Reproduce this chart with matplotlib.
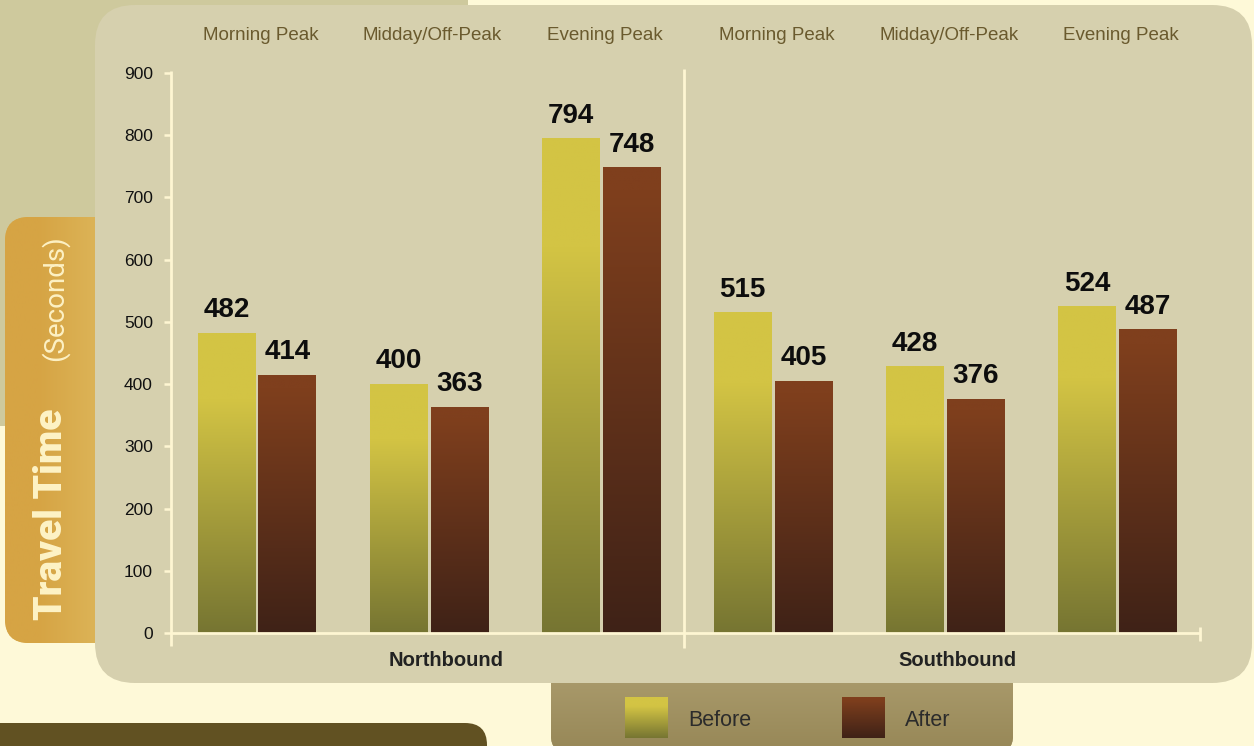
import numpy as np
import matplotlib.pyplot as plt
from matplotlib.patches import FancyBboxPatch
from matplotlib.colors import to_rgb
import matplotlib.transforms as mtrans

plt.rcParams['font.family'] = ['Liberation Sans', 'DejaVu Sans']

# DATA
periods = ["Morning Peak", "Midday/Off-Peak", "Evening Peak",
           "Morning Peak", "Midday/Off-Peak", "Evening Peak"]
directions = ["Northbound", "Southbound"]
before = [482, 400, 794, 515, 428, 524]
after = [414, 363, 748, 405, 376, 487]
yticks = [0, 100, 200, 300, 400, 500, 600, 700, 800, 900]

# COLOURS
cream = "#FEF9D8"
khaki = "#CEC99D"
panel = "#D6D0AE"
axis_col = "#FEF6D2"
yellow, olive = to_rgb("#D3C444"), to_rgb("#767532")
rust, dark = to_rgb("#7F3F1D"), to_rgb("#3F2217")


def grad(top, bottom, hold=0.0, n=256):
    # rows go bottom -> top
    t = np.linspace(0, 1, n)
    t = np.clip(t / (1 - hold), 0, 1)
    top, bottom = np.array(top), np.array(bottom)
    arr = bottom[None, :] + (top - bottom)[None, :] * t[:, None]
    return arr[:, None, :]


grad_before = grad(yellow, olive, hold=0.22)
grad_after = grad(rust, dark, hold=0.05)

W, H = 1254, 746
fig = plt.figure(figsize=(W / 100, H / 100), dpi=100)
fig.patch.set_facecolor(cream)

# background decoration in pixel coords
bg = fig.add_axes([0, 0, 1, 1])
bg.set_xlim(0, W)
bg.set_ylim(H, 0)
bg.axis("off")


def rbox(x0, y0, x1, y1, r, color, z=1):
    p = FancyBboxPatch((x0, y0), x1 - x0, y1 - y0,
                       boxstyle=f"round,pad=0,rounding_size={r}",
                       fc=color, ec="none", zorder=z)
    bg.add_patch(p)
    return p


bg.add_patch(plt.Rectangle((0, 0), 468, 426, fc=khaki, ec="none", zorder=1))
ob = rbox(5, 217, 140, 643, 24, "#D9AB4C", z=2)
im = bg.imshow(np.array([[to_rgb("#D6A444"), to_rgb("#DDB65A")]]), extent=(5, 140, 643, 217),
               aspect="auto", interpolation="bilinear", zorder=2.2)
im.set_clip_path(ob)
rbox(-30, 723, 487, 800, 22, "#615122", z=2)
lg = rbox(551, 640, 1013, 752, 16, "#A8986A", z=2)
im = bg.imshow(grad((0.70, 0.64, 0.46), (0.59, 0.53, 0.34)), extent=(551, 1013, 752, 640),
               origin="lower", aspect="auto", zorder=2.5)
im.set_clip_path(lg)
rbox(95, 5, 1252, 683, 40, panel, z=3)

# y-axis title
bg.text(62, 514, "Travel Time", rotation=90, rotation_mode="anchor",
        ha="center", va="baseline", fontsize=28, fontweight="heavy",
        color="#FEF3C6", family=["Roboto", "Liberation Sans"], zorder=4)
bg.text(63, 298, "(Seconds)", rotation=90, rotation_mode="anchor",
        ha="center", va="baseline", fontsize=20, fontweight="normal",
        color="#FDF1C4", family=["Roboto", "Liberation Sans"], zorder=4)

# legend
for x0, g, lab in [(625, grad_before, "Before"), (842, grad_after, "After")]:
    bg.imshow(g, extent=(x0, x0 + 43, 738, 697), origin="lower", aspect="auto", zorder=4)
    bg.text(x0 + 63, 721, lab, ha="left", va="center", fontsize=15.5,
            color="#2B2B2B", zorder=4)
bg.set_xlim(0, W)
bg.set_ylim(H, 0)

# MAIN CHART
ax = fig.add_axes([171 / W, (H - 633) / H, (1200 - 171) / W, (633 - 73) / H])
ax.set_zorder(2)
ax.patch.set_alpha(0)

x = np.arange(len(before))
bw, off = 0.337, 0.177
bars_b = ax.bar(x - off, before, bw, color="none", edgecolor="none")
bars_a = ax.bar(x + off, after, bw, color="none", edgecolor="none")
for bars, g in [(bars_b, grad_before), (bars_a, grad_after)]:
    for r in bars:
        x0, w, h = r.get_x(), r.get_width(), r.get_height()
        ax.imshow(g, extent=(x0, x0 + w, 0, h), origin="lower", aspect="auto", zorder=2)
        ax.annotate(f"{h:.0f}", (x0 + w / 2, h), xytext=(0, 11.5), textcoords="offset points",
                    ha="center", va="baseline", fontsize=20, fontweight="bold",
                    color="#0D0D0D", zorder=5)

ax.set_xlim(-0.5, 5.48)
ax.set_ylim(0, 900)
for s in ax.spines.values():
    s.set_visible(False)
ax.set_xticks([])
ax.set_yticks(yticks)
ax.tick_params(axis="y", length=5, width=1.8, color=axis_col, pad=8,
               labelsize=12.5, labelcolor="#111111")

# axis lines drawn by hand
lk = dict(color=axis_col, lw=2, clip_on=False, solid_capstyle="butt", zorder=3)
ax.plot([-0.5, -0.5], [-21, 903], **lk)
ax.plot([-0.5, 5.48], [0, 0], **lk)
ax.plot([5.48, 5.48], [10, -13], **lk)
ax.plot([2.48, 2.48], [-24, 906], **lk)

tr = mtrans.blended_transform_factory(ax.transData, fig.transFigure)
for i, p in enumerate(periods):
    ax.text(i + 0.02, (H - 36) / H, p, transform=tr, ha="center", va="center",
            fontsize=13.5, color="#6A5A2E")
for xc, d in zip([1.1, 4.07], directions):
    ax.text(xc, (H - 660) / H, d, transform=tr, ha="center", va="center",
            fontsize=14.5, fontweight="bold", color="#222222")

fig.savefig("out.png", dpi=100, facecolor=fig.get_facecolor())
